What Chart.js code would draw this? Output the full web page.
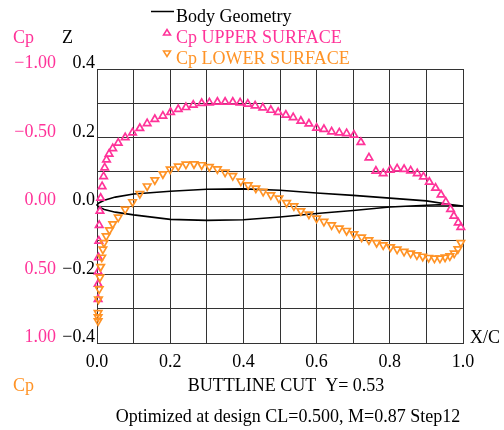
<!DOCTYPE html>
<html><head><meta charset="utf-8">
<script src="https://cdn.jsdelivr.net/npm/chart.js@4.4.0/dist/chart.umd.min.js"></script>
<style>html,body{margin:0;padding:0;background:#fff;}canvas{display:block}</style>
</head><body>
<canvas id="c" width="504" height="430"></canvas>
<script>
const seriesNames = ['Body Geometry', 'Cp UPPER SURFACE', 'Cp LOWER SURFACE'];
const axisTitles = { cpTop: 'Cp', z: 'Z', x: 'X/C', cpBottom: 'Cp' };
const captionLines = ['BUTTLINE CUT  Y= 0.53', 'Optimized at design CL=0.500, M=0.87 Step12'];

// Body geometry (closed section: TE -> upper -> LE -> lower -> TE)
const bodyX = [1.0, 0.96, 0.9, 0.8, 0.7, 0.6, 0.5, 0.4, 0.3, 0.2, 0.1, 0.05, 0.02, 0.005, 0.0,
               0.005, 0.02, 0.05, 0.1, 0.2, 0.3, 0.4, 0.5, 0.6, 0.7, 0.8, 0.9, 0.95, 1.0];
const bodyZ = [0.0, 0.005, 0.015, 0.023, 0.031, 0.038, 0.046, 0.05, 0.049, 0.043, 0.035, 0.026, 0.017, 0.009, 0.003,
               -0.003, -0.01, -0.018, -0.026, -0.039, -0.042, -0.040, -0.032, -0.022, -0.013, -0.003, 0.002, 0.004, 0.0];

// Cp upper surface
const upperX = [0.003, 0.003, 0.003, 0.004, 0.005, 0.006, 0.008, 0.010, 0.014, 0.018, 0.021, 0.026, 0.033, 0.043, 0.058, 0.077, 0.097,
  0.117, 0.137, 0.158, 0.180, 0.201, 0.222, 0.243, 0.263, 0.286, 0.307, 0.329, 0.350, 0.371, 0.391, 0.412, 0.432, 0.453, 0.475,
  0.495, 0.516, 0.536, 0.557, 0.579, 0.600, 0.620, 0.641, 0.662, 0.682, 0.702, 0.721, 0.743, 0.762, 0.782, 0.801, 0.820, 0.839,
  0.857, 0.875, 0.892, 0.908, 0.925, 0.940, 0.953, 0.966, 0.975, 0.987, 0.994];
const upperCp = [0.68, 0.57, 0.48, 0.375, 0.255, 0.14, 0.037, -0.058, -0.143, -0.216, -0.28, -0.338, -0.38, -0.42, -0.46, -0.50, -0.535,
  -0.567, -0.603, -0.633, -0.657, -0.684, -0.706, -0.72, -0.737, -0.75, -0.754, -0.759, -0.759, -0.759, -0.754, -0.745, -0.732, -0.717, -0.70,
  -0.684, -0.664, -0.646, -0.62, -0.60, -0.57, -0.56, -0.542, -0.535, -0.53, -0.518, -0.465, -0.353, -0.255, -0.238, -0.263, -0.272, -0.268,
  -0.258, -0.238, -0.214, -0.175, -0.131, -0.082, -0.03, 0.024, 0.073, 0.122, 0.155];

// Cp lower surface
const lowerX = [0.003, 0.003, 0.003, 0.004, 0.006, 0.008, 0.010, 0.013, 0.016, 0.019, 0.025, 0.034, 0.043, 0.058, 0.077, 0.097,
  0.117, 0.137, 0.158, 0.180, 0.200, 0.222, 0.243, 0.265, 0.286, 0.307, 0.329, 0.350, 0.371, 0.393, 0.413, 0.434, 0.454, 0.475,
  0.497, 0.518, 0.538, 0.557, 0.579, 0.600, 0.620, 0.641, 0.662, 0.682, 0.702, 0.723, 0.743, 0.764, 0.782, 0.802, 0.820, 0.839,
  0.857, 0.874, 0.890, 0.906, 0.922, 0.937, 0.951, 0.964, 0.976, 0.986, 0.994];
const lowerCp = [0.84, 0.81, 0.78, 0.68, 0.606, 0.52, 0.443, 0.375, 0.316, 0.268, 0.219, 0.175, 0.131, 0.083, 0.024, -0.03,
  -0.09, -0.145, -0.19, -0.234, -0.268, -0.29, -0.304, -0.307, -0.30, -0.287, -0.27, -0.246, -0.22, -0.18, -0.153, -0.13, -0.105, -0.08,
  -0.056, -0.024, 0.0, 0.036, 0.06, 0.09, 0.114, 0.139, 0.163, 0.18, 0.204, 0.228, 0.248, 0.268, 0.285, 0.30, 0.316, 0.333,
  0.345, 0.358, 0.368, 0.377, 0.382, 0.382, 0.374, 0.365, 0.345, 0.314, 0.268];

const MAG = '#ff3399';
const ORG = '#ff9326';
const GRID = '#333333';
const FONT = "'Liberation Serif', 'Times New Roman', serif";
const MINUS = '\u2212';

function pts(xs, ys) { return xs.map((x, i) => ({ x: x, y: ys[i] })); }

function fmt(v, d) {
  const s = Math.abs(v).toFixed(d);
  return (v < -1e-9 ? MINUS : '') + s;
}

const extraText = {
  id: 'extraText',
  afterDraw(chart) {
    const ctx = chart.ctx;
    ctx.save();
    ctx.font = '18px ' + FONT;
    ctx.textBaseline = 'alphabetic';
    ctx.textAlign = 'left';
    // legend
    ctx.strokeStyle = '#000'; ctx.lineWidth = 1.5;
    ctx.beginPath(); ctx.moveTo(151, 11.5); ctx.lineTo(174, 11.5); ctx.stroke();
    ctx.fillStyle = '#000'; ctx.fillText(chart.data.datasets[0].label, 176, 22);
    ctx.lineWidth = 1.5;
    ctx.strokeStyle = MAG;
    ctx.beginPath(); ctx.moveTo(167, 29.5); ctx.lineTo(170.5, 35); ctx.lineTo(163.5, 35); ctx.closePath(); ctx.stroke();
    ctx.fillStyle = MAG; ctx.fillText(chart.data.datasets[1].label, 176, 43);
    ctx.strokeStyle = ORG;
    ctx.beginPath(); ctx.moveTo(163.5, 51); ctx.lineTo(170.5, 51); ctx.lineTo(167, 56.5); ctx.closePath(); ctx.stroke();
    ctx.fillStyle = ORG; ctx.fillText(chart.data.datasets[2].label, 176, 64);
    // axis titles
    ctx.fillStyle = MAG; ctx.fillText(axisTitles.cpTop, 13, 43);
    ctx.fillStyle = '#000'; ctx.fillText(axisTitles.z, 62, 43);
    ctx.fillText(axisTitles.x, 470, 343);
    ctx.fillStyle = ORG; ctx.fillText(axisTitles.cpBottom, 13, 391);
    // captions
    ctx.fillStyle = '#000'; ctx.textAlign = 'center';
    ctx.fillText(captionLines[0], 286, 391);
    ctx.fillText(captionLines[1], 288, 422);
    ctx.restore();
  }
};

new Chart(document.getElementById('c'), {
  type: 'scatter',
  data: {
    datasets: [
      { label: seriesNames[0], data: pts(bodyX, bodyZ), yAxisID: 'z', showLine: true,
        borderColor: '#000', borderWidth: 1.6, pointRadius: 0, tension: 0, fill: false, clip: false, order: 2 },
      { label: seriesNames[1], data: pts(upperX, upperCp), yAxisID: 'cp', showLine: false,
        pointStyle: 'triangle', pointRadius: 4.3, pointBorderWidth: 1.7, borderColor: MAG,
        backgroundColor: 'rgba(0,0,0,0)', clip: false, order: 1 },
      { label: seriesNames[2], data: pts(lowerX, lowerCp), yAxisID: 'cp', showLine: false,
        pointStyle: 'triangle', rotation: 180, pointRotation: 180, pointRadius: 4.3, pointBorderWidth: 1.7, borderColor: ORG,
        backgroundColor: 'rgba(0,0,0,0)', clip: false, order: 0 }
    ]
  },
  options: {
    responsive: false,
    devicePixelRatio: 1,
    animation: false,
    layout: { padding: { left: 0, top: 69, right: 41, bottom: 57 } },
    plugins: { legend: { display: false }, tooltip: { enabled: false } },
    scales: {
      x: {
        type: 'linear', position: 'bottom', min: 0, max: 1,
        grid: { color: GRID, lineWidth: 1, drawTicks: false },
        border: { color: GRID, width: 1 },
        ticks: { stepSize: 0.1, autoSkip: false, maxRotation: 0, padding: 8, color: '#000',
          font: { family: FONT, size: 18 },
          callback: v => (Math.round(v * 10) % 2 === 0 ? Math.abs(v).toFixed(1) : '') },
        afterFit: s => { s.height = 30; }
      },
      z: {
        type: 'linear', position: 'left', min: -0.4, max: 0.4, weight: 0,
        grid: { color: GRID, lineWidth: 1, drawTicks: false },
        border: { color: GRID, width: 1 },
        ticks: { stepSize: 0.1, autoSkip: false, padding: 2, color: '#000',
          font: { family: FONT, size: 18, lineHeight: '11px' },
          callback: v => { const k = Math.round(v * 10); return (k % 2 !== 0) ? '' : [fmt(k / 10, 1), '']; } },
        afterFit: s => { s.width = 35; }
      },
      cp: {
        type: 'linear', position: 'left', min: -1, max: 1, reverse: true, weight: 1,
        grid: { display: false, drawTicks: false },
        border: { display: false },
        ticks: { stepSize: 0.5, autoSkip: false, padding: 6, color: MAG,
          font: { family: FONT, size: 18, lineHeight: '11px' },
          callback: v => [fmt(v, 2), ''] },
        afterFit: s => { s.width = 62; }
      }
    }
  },
  plugins: [extraText]
});
</script>
</body></html>
